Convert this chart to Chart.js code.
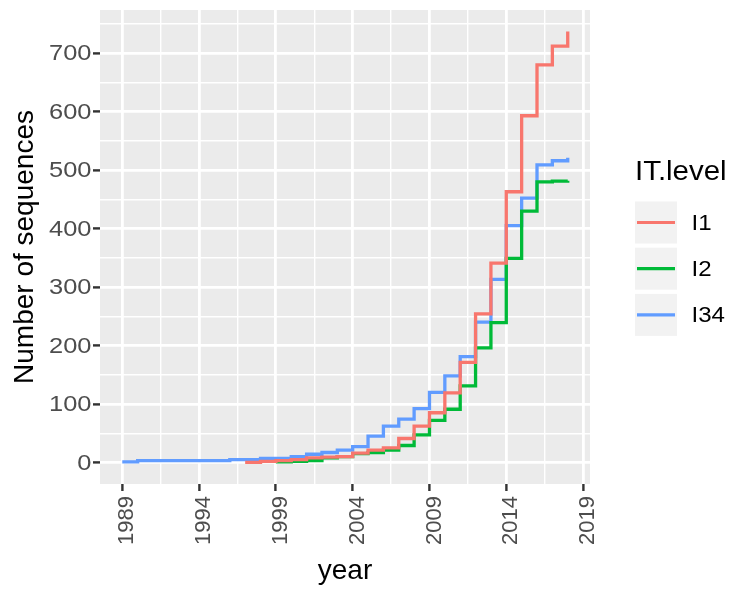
<!DOCTYPE html>
<html>
<head>
<meta charset="utf-8">
<script src="https://cdn.jsdelivr.net/npm/chart.js@4/dist/chart.umd.min.js"></script>
<style>
  body { margin: 0; background: #ffffff; }
  #wrap { width: 733px; height: 590px; }
</style>
</head>
<body>
<div id="wrap"><canvas id="myChart" width="733" height="590"></canvas></div>
<script>
// data
const years = [1989, 1990, 1991, 1992, 1993, 1994, 1995, 1996, 1997, 1998,
               1999, 2000, 2001, 2002, 2003, 2004, 2005, 2006, 2007, 2008,
               2009, 2010, 2011, 2012, 2013, 2014, 2015, 2016, 2017, 2018];

const seriesNames = ['I1', 'I2', 'I34'];

const valuesI1 = [null, null, null, null, null, null, null, null, 0, 2,
                  3, 5, 8, 9, 10, 16, 21, 25, 41, 62,
                  85, 119, 171, 254, 341, 463, 593, 680, 712, 737];

const valuesI2 = [null, null, null, null, null, null, null, null, null, null,
                  1, 2, 3, 8, 10, 15, 17, 21, 29, 47,
                  72, 91, 131, 196, 239, 349, 430, 480, 481, 482];

const valuesI34 = [1, 3, 3, 3, 3, 3, 3, 5, 5, 7,
                   7, 10, 14, 17, 21, 27, 45, 62, 74, 92,
                   120, 148, 181, 240, 313, 405, 452, 509, 516, 521];

const xTicks = [1989, 1994, 1999, 2004, 2009, 2014, 2019];
const yTicks = [0, 100, 200, 300, 400, 500, 600, 700];

const colors = ['#F8766D', '#00BA38', '#619CFF'];

// ggplot style ranges (5% expansion)
const xMin = 1987.55, xMax = 2019.45;
const yMin = -36.85, yMax = 773.85;

const FONT = '"Liberation Sans", Arial, sans-serif';

function toPoints(values) {
    return years.map((yr, i) => ({ x: yr, y: values[i] }));
}

function withMinors(majors, lo, hi) {
    let step = majors[1] - majors[0];
    let list = majors.slice();
    for (let i = -1; i < majors.length; i++) {
        let m = majors[0] + step * i + step / 2;
        if (m > lo && m < hi) list.push(m);
    }
    return list.sort((a, b) => a - b);
}

// text a bit wider than the plain font, like the reference
function wideText(ctx, text, x, y, align, stretch) {
    ctx.save();
    ctx.translate(x, y);
    ctx.scale(stretch, 1);
    ctx.textAlign = align;
    ctx.fillText(text, 0, 0);
    ctx.restore();
}

const panelBg = {
    id: 'panelBg',
    beforeDraw(chart) {
        const { ctx, chartArea } = chart;
        ctx.save();
        ctx.fillStyle = '#EBEBEB';
        ctx.fillRect(chartArea.left, chartArea.top, chartArea.right - chartArea.left, chartArea.bottom - chartArea.top);
        ctx.restore();
    }
};

const yLabels = {
    id: 'yLabels',
    afterDraw(chart) {
        const ctx = chart.ctx;
        const scale = chart.scales.y;
        ctx.save();
        ctx.fillStyle = '#4D4D4D';
        ctx.font = '22.5px ' + FONT;
        ctx.textBaseline = 'middle';
        yTicks.forEach((v) => {
            wideText(ctx, String(v), 91.5, scale.getPixelForValue(v) + 1, 'right', 1.13);
        });
        ctx.restore();
    }
};

const ggLegend = {
    id: 'ggLegend',
    afterDraw(chart) {
        const ctx = chart.ctx;
        const left = 635;
        ctx.save();
        ctx.fillStyle = '#000000';
        ctx.font = '27.5px ' + FONT;
        ctx.textBaseline = 'middle';
        wideText(ctx, 'IT.level', left, 172, 'left', 1.07);
        seriesNames.forEach((name, i) => {
            let top = 201.5 + i * 46.2;
            ctx.fillStyle = '#F2F2F2';
            ctx.fillRect(left, top, 42, 42);
            ctx.strokeStyle = colors[i];
            ctx.lineWidth = 3.2;
            ctx.beginPath();
            ctx.moveTo(left + 2, top + 21);
            ctx.lineTo(left + 40, top + 21);
            ctx.stroke();
            ctx.fillStyle = '#000000';
            ctx.font = '22.5px ' + FONT;
            wideText(ctx, name, 691.5, top + 22, 'left', 1.07);
        });
        ctx.restore();
    }
};

function mainEvent() {
    const chartArea = document.querySelector('#myChart');
    const xAll = withMinors(xTicks, xMin, xMax);
    const yAll = withMinors(yTicks, yMin, yMax);
    const datasets = [valuesI1, valuesI2, valuesI34].map((vals, i) => ({
        label: seriesNames[i],
        data: toPoints(vals),
        borderColor: colors[i],
        backgroundColor: colors[i],
        borderWidth: 3.3,
        stepped: 'before',
        pointRadius: 0,
        fill: false,
        spanGaps: false
    }));

    Chart.defaults.font.family = FONT;

    return new Chart(chartArea, {
        type: 'line',
        data: { datasets: datasets },
        options: {
            responsive: false,
            animation: false,
            layout: { padding: { left: 0, top: 10, right: 143, bottom: 0 } },
            plugins: { legend: { display: false }, tooltip: { enabled: false } },
            scales: {
                x: {
                    type: 'linear',
                    min: xMin,
                    max: xMax,
                    afterBuildTicks: (scale) => { scale.ticks = xAll.map(v => ({ value: v })); },
                    afterFit: (scale) => {
                        scale.height = 106;
                        scale.paddingLeft = 0;
                        scale.paddingRight = 0;
                    },
                    border: { display: false },
                    grid: {
                        color: '#FFFFFF',
                        lineWidth: (c) => xTicks.includes(c.tick.value) ? 2.8 : 1.4,
                        tickColor: (c) => xTicks.includes(c.tick.value) ? '#333333' : 'rgba(0,0,0,0)',
                        tickWidth: 2.4,
                        tickLength: 7
                    },
                    ticks: {
                        autoSkip: false,
                        minRotation: 90,
                        maxRotation: 90,
                        padding: 5,
                        labelOffset: 5,
                        color: '#4D4D4D',
                        font: { size: 22 },
                        callback: (v) => xTicks.includes(v) ? String(v) : ''
                    },
                    title: {
                        display: true,
                        text: 'year',
                        color: '#000000',
                        font: { size: 28 },
                        padding: { top: 0, bottom: 2 }
                    }
                },
                y: {
                    type: 'linear',
                    min: yMin,
                    max: yMax,
                    afterBuildTicks: (scale) => { scale.ticks = yAll.map(v => ({ value: v })); },
                    afterFit: (scale) => {
                        scale.width = 100;
                        scale.paddingTop = 0;
                        scale.paddingBottom = 0;
                    },
                    border: { display: false },
                    grid: {
                        color: '#FFFFFF',
                        lineWidth: (c) => yTicks.includes(c.tick.value) ? 2.8 : 1.4,
                        tickColor: (c) => yTicks.includes(c.tick.value) ? '#333333' : 'rgba(0,0,0,0)',
                        tickWidth: 2.4,
                        tickLength: 7
                    },
                    ticks: {
                        autoSkip: false,
                        padding: 2,
                        color: 'rgba(0,0,0,0)',
                        font: { size: 22 },
                        callback: (v) => yTicks.includes(v) ? String(v) : ''
                    },
                    title: {
                        display: true,
                        text: 'Number of sequences',
                        color: '#000000',
                        font: { size: 28 },
                        padding: { top: 8, bottom: 0 }
                    }
                }
            }
        },
        plugins: [panelBg, yLabels, ggLegend]
    });
}

document.addEventListener('DOMContentLoaded', () => mainEvent());
</script>
</body>
</html>
